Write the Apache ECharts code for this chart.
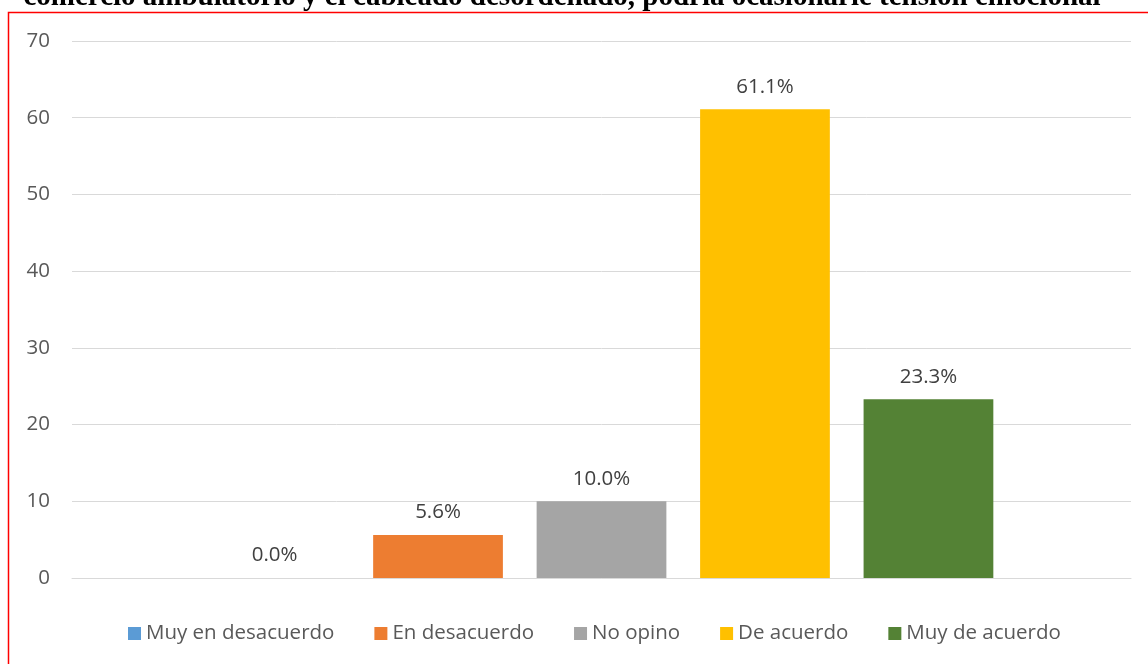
<!DOCTYPE html>
<html><head><meta charset="utf-8">
<script src="https://cdn.jsdelivr.net/npm/echarts@6/dist/echarts.min.js"></script>
<style>html,body{margin:0;padding:0;background:#fff}#c{width:1148px;height:664px}</style>
</head><body><div id="c"></div>
<script>
const titleText = 'comercio ambulatorio y el cableado desordenado, podría ocasionarle tensión emocional';
const categories = [''];
const seriesNames = ['Muy en desacuerdo', 'En desacuerdo', 'No opino', 'De acuerdo', 'Muy de acuerdo'];
const seriesValues = [0.0, 5.6, 10.0, 61.1, 23.3];
const seriesColors = ['#5B9BD5', '#ED7D31', '#A5A5A5', '#FFC000', '#548235'];
const yTicks = [0, 10, 20, 30, 40, 50, 60, 70];

const font = '"Open Sans", "Liberation Sans", sans-serif';
const chart = echarts.init(document.getElementById('c'));
chart.setOption({
  animation: false,
  title: {
    text: titleText, left: 557, textAlign: 'center', top: -22,
    textStyle: { fontFamily: '"Liberation Serif", serif', fontWeight: 'bold', fontSize: 29, color: '#000' }
  },
  graphic: [{
    type: 'rect', shape: { x: 8.5, y: 12.5, width: 1160, height: 700 },
    style: { fill: null, stroke: '#FF0000', lineWidth: 1.5 }, silent: true, z: 100
  }],
  grid: { left: 72, right: 17, top: 41, bottom: 86, containLabel: false },
  legend: {
    bottom: 15, left: 123, itemWidth: 13, itemHeight: 13, itemGap: 40,
    icon: 'rect',
    textStyle: { fontFamily: font, fontSize: 20.5, color: '#595959' },
    data: seriesNames
  },
  xAxis: {
    type: 'category', data: categories,
    axisLine: { lineStyle: { color: '#D9D9D9', width: 1 } },
    axisTick: { show: false }, axisLabel: { show: false }
  },
  yAxis: {
    type: 'value', min: yTicks[0], max: yTicks[yTicks.length - 1], interval: 10,
    axisLine: { show: false }, axisTick: { show: false },
    axisLabel: { fontFamily: font, fontSize: 20.5, color: '#595959', margin: 22 },
    splitLine: { lineStyle: { color: '#D9D9D9', width: 1 } }
  },
  series: seriesNames.map((n, i) => ({
    name: n, type: 'bar', data: [seriesValues[i]],
    barGap: '26%', barCategoryGap: '26%',
    itemStyle: { color: seriesColors[i] },
    label: {
      show: true, position: 'top', distance: 12,
      formatter: p => p.value.toFixed(1) + '%',
      fontFamily: font, fontSize: 20.5, color: '#404040'
    }
  }))
});
</script></body></html>
